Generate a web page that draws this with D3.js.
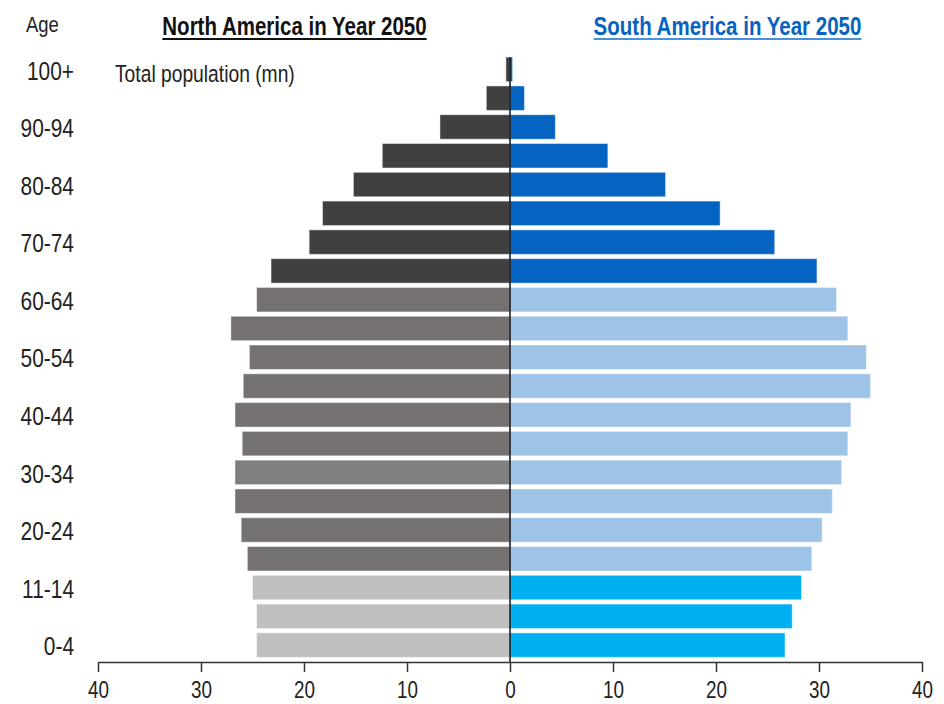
<!DOCTYPE html>
<html>
<head>
<meta charset="utf-8">
<script src="https://cdn.jsdelivr.net/npm/d3@7"></script>
<style>
  body { margin: 0; background: #fff; }
  svg { display: block; }
  text { font-family: "Liberation Sans", Arial, sans-serif; }
</style>
</head>
<body>
<svg class="pyramid" width="944" height="704"></svg>
<script>
// age groups, youngest first
const ageGroups = ['0-4', '5-9', '11-14', '15-19', '20-24', '25-29', '30-34', '35-39', '40-44',
    '45-49', '50-54', '55-59', '60-64', '65-69', '70-74', '75-79', '80-84', '85-89', '90-94', '95-99', '100+'];
const ageLabels = ['0-4', '11-14', '20-24', '30-34', '40-44', '50-54', '60-64', '70-74', '80-84', '90-94', '100+'];

// population in millions
const northAmerica = [24.6, 24.6, 25.0, 25.5, 26.1, 26.7, 26.7, 26.0, 26.7,
    25.9, 25.3, 27.1, 24.6, 23.2, 19.5, 18.2, 15.2, 12.4, 6.8, 2.3, 0.4];
const southAmerica = [26.7, 27.4, 28.3, 29.3, 30.3, 31.3, 32.2, 32.8, 33.1,
    35.0, 34.6, 32.8, 31.7, 29.8, 25.7, 20.4, 15.1, 9.5, 4.4, 1.4, 0.25];

const xTicks = [-40, -30, -20, -10, 0, 10, 20, 30, 40];

// colours per age bracket
const northColors = ['#bfbfbf', '#bfbfbf', '#bfbfbf', '#767171', '#767171', '#767171', '#7f7f7f', '#767171', '#767171',
    '#767171', '#767171', '#767171', '#767171', '#404040', '#404040', '#404040', '#404040', '#404040', '#404040', '#404040', '#404040'];
const southColors = ['#00b0f0', '#00b0f0', '#00b0f0', '#9dc3e6', '#9dc3e6', '#9dc3e6', '#9dc3e6', '#9dc3e6', '#9dc3e6',
    '#9dc3e6', '#9dc3e6', '#9dc3e6', '#9dc3e6', '#0563c1', '#0563c1', '#0563c1', '#0563c1', '#0563c1', '#0563c1', '#0563c1', '#0563c1'];

let svg = d3.select('.pyramid');
const AXIS_Y = 662;
const NARROW = 0.82; // squeeze Liberation Sans into a condensed look

let xScale = d3.scaleLinear()
    .domain([-40, 40])
    .range([98, 922]);
let yScale = d3.scaleBand()
    .domain(ageGroups.slice().reverse())
    .range([55, 659.5])
    .paddingInner(0.15)
    .paddingOuter(0.075);

// left side (North America)
svg.append('g')
    .attr('id', 'north')
    .selectAll('rect')
    .data(ageGroups)
    .join('rect')
    .attr('x', (d, i) => xScale(-northAmerica[i]))
    .attr('y', d => yScale(d))
    .attr('width', (d, i) => xScale(0) - xScale(-northAmerica[i]))
    .attr('height', yScale.bandwidth())
    .attr('fill', (d, i) => northColors[i])
    .attr('stroke', 'rgba(255,255,255,0.45)')
    .attr('stroke-width', 1);

// right side (South America)
svg.append('g')
    .attr('id', 'south')
    .selectAll('rect')
    .data(ageGroups)
    .join('rect')
    .attr('x', xScale(0))
    .attr('y', d => yScale(d))
    .attr('width', (d, i) => xScale(southAmerica[i]) - xScale(0))
    .attr('height', yScale.bandwidth())
    .attr('fill', (d, i) => southColors[i])
    .attr('stroke', 'rgba(255,255,255,0.45)')
    .attr('stroke-width', 1);

// centre line
svg.append('line')
    .attr('x1', xScale(0)).attr('x2', xScale(0))
    .attr('y1', yScale.range()[0] + 2).attr('y2', AXIS_Y)
    .attr('stroke', '#111')
    .attr('stroke-width', 1.5);

// x axis
let xAxis = svg.append('g')
    .attr('id', 'x-axis')
    .attr('transform', `translate(0,${AXIS_Y})`)
    .call(d3.axisBottom(xScale)
        .tickValues(xTicks)
        .tickFormat(d => Math.abs(d))
        .tickSize(10)
        .tickSizeOuter(0)
        .tickPadding(10));
xAxis.select('.domain').attr('stroke', '#333').attr('stroke-width', 1.5);
xAxis.selectAll('.tick line').attr('stroke', '#333').attr('stroke-width', 1.5);
xAxis.selectAll('text')
    .attr('font-size', 23)
    .attr('fill', '#222')
    .attr('transform', `scale(${NARROW},1)`)
    .style('font-family', '"Liberation Sans", Arial, sans-serif');

// y axis labels (every second group)
let yAxis = svg.append('g')
    .attr('id', 'y-axis')
    .attr('transform', 'translate(74,0)')
    .call(d3.axisLeft(yScale)
        .tickValues(ageLabels)
        .tickSize(0)
        .tickPadding(0));
yAxis.select('.domain').remove();
yAxis.selectAll('text')
    .attr('font-size', 25.5)
    .attr('dy', '0.4em')
    .attr('fill', '#222')
    .attr('transform', `scale(${NARROW},1)`)
    .style('font-family', '"Liberation Sans", Arial, sans-serif');

// narrow text helper
function narrowText(x, y, size, label) {
    return svg.append('text')
        .attr('x', x / NARROW).attr('y', y)
        .attr('transform', `scale(${NARROW},1)`)
        .attr('font-size', size)
        .attr('fill', '#222')
        .text(label);
}

narrowText(26, 32, 22.5, 'Age');
narrowText(115, 82, 23.5, 'Total population (mn)');

function title(label, cx, color, lineColor) {
    let t = narrowText(cx, 35, 25, label)
        .attr('text-anchor', 'middle')
        .attr('font-weight', 'bold')
        .attr('fill', color);
    let w = t.node().getComputedTextLength() * NARROW;
    svg.append('line')
        .attr('x1', cx - w / 2).attr('x2', cx + w / 2)
        .attr('y1', 39).attr('y2', 39)
        .attr('stroke', lineColor)
        .attr('stroke-width', 2);
}
title('North America in Year 2050', 294.5, '#111', '#111');
title('South America in Year 2050', 727.5, '#0563c1', '#4a90d9');
</script>
</body>
</html>
